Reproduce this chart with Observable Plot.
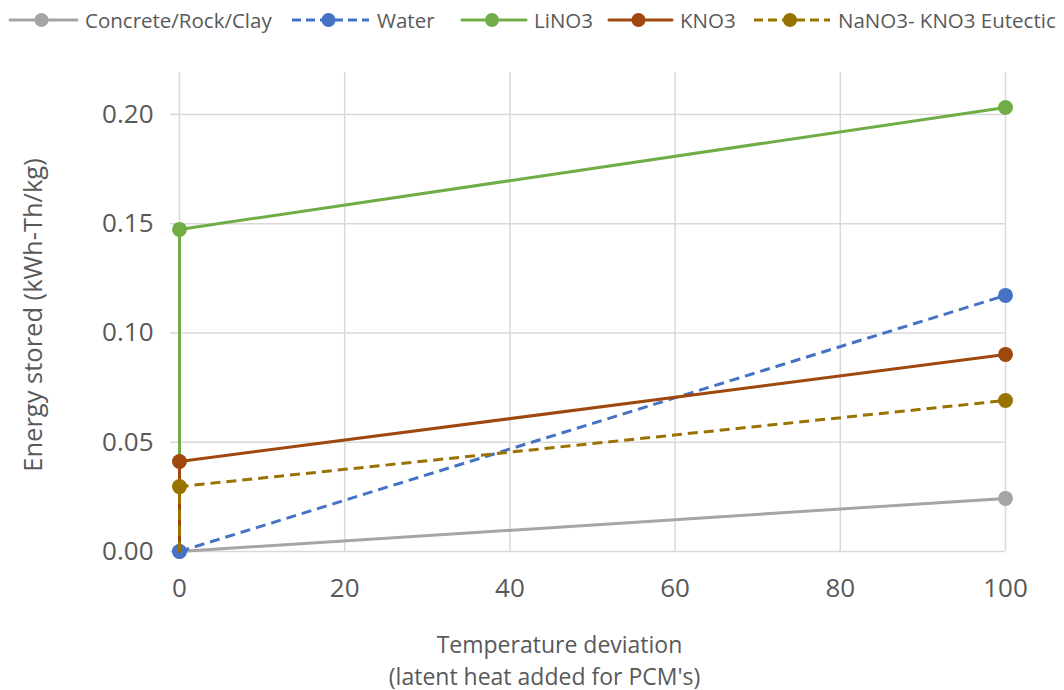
<!DOCTYPE html>
<html>
<head>
<meta charset="utf-8">
<script src="https://cdn.jsdelivr.net/npm/d3@7"></script>
<script src="https://cdn.jsdelivr.net/npm/@observablehq/plot@0.6"></script>
<style>
  body { margin: 0; background: #fff; font-family: "Open Sans", sans-serif; color: #595959; }
  #legend { position: relative; height: 40px; width: 1064px; }
  .item { position: absolute; top: 0; height: 40px; display: flex; align-items: center; font-size: 20.5px; white-space: nowrap; }
  .item svg { margin-right: 6px; }
</style>
</head>
<body>
<div id="legend"></div>
<div id="chart"></div>
<script>
// Energy stored per kg versus temperature deviation
const seriesNames = ["Concrete/Rock/Clay", "Water", "LiNO3", "KNO3", "NaNO3- KNO3 Eutectic"];
const seriesColors = ["#A5A5A5", "#4472C4", "#70AD47", "#9E480E", "#997300"];
const seriesDashed = [false, true, false, false, true];

// temperature deviation points; PCMs jump at 0 by their latent heat
const concreteTemp = [0, 100];
const concreteEnergy = [0, 0.0243];
const waterTemp = [0, 100];
const waterEnergy = [0, 0.1172];
const lino3Temp = [0, 0, 100];
const lino3Energy = [0, 0.1474, 0.2032];
const kno3Temp = [0, 0, 100];
const kno3Energy = [0, 0.0412, 0.0902];
const eutecticTemp = [0, 0, 100];
const eutecticEnergy = [0, 0.0297, 0.0691];

const xTicks = [0, 20, 40, 60, 80, 100];
const yTicks = [0, 0.05, 0.10, 0.15, 0.20];
const xTitleLines = ["Temperature deviation", "(latent heat added for PCM's)"];
const yTitle = "Energy stored (kWh-Th/kg)";

const temps = [concreteTemp, waterTemp, lino3Temp, kno3Temp, eutecticTemp];
const energies = [concreteEnergy, waterEnergy, lino3Energy, kno3Energy, eutecticEnergy];
// the starting point of a PCM curve carries no marker
const firstMarked = [0, 0, 1, 1, 1];

const dash = "10,6";

// legend
const legend = document.getElementById("legend");
const legendLeft = [8, 290, 460, 607, 752];
const swatchWidth = [71, 81, 68, 67, 80];
seriesNames.forEach((name, i) => {
  const div = document.createElement("div");
  div.className = "item";
  div.style.left = legendLeft[i] + "px";
  const w = swatchWidth[i];
  div.innerHTML =
    `<svg width="${w}" height="20"><line x1="2" x2="${w - 2}" y1="10" y2="10" stroke="${seriesColors[i]}" stroke-width="3"` +
    (seriesDashed[i] ? ` stroke-dasharray="9,5"` : ` stroke-linecap="round"`) +
    `/><circle cx="${w / 2 - 2}" cy="10" r="7" fill="${seriesColors[i]}"/></svg><span>${name}</span>`;
  legend.appendChild(div);
});

const lineMarks = [];
seriesNames.forEach((name, i) => {
  const rows = temps[i].map((t, j) => ({t, e: energies[i][j], j}));
  lineMarks.push(Plot.line(rows, {
    x: "t", y: "e",
    stroke: seriesColors[i], strokeWidth: 3,
    strokeDasharray: seriesDashed[i] ? dash : null,
    strokeLinecap: seriesDashed[i] ? "butt" : "round"
  }));
  lineMarks.push(Plot.dot(rows.filter(d => d.j >= firstMarked[i]), {
    x: "t", y: "e", r: 7.5, fill: seriesColors[i], stroke: null
  }));
});

const chart = Plot.plot({
  width: 1064,
  height: 650,
  marginTop: 32,
  marginBottom: 139,
  marginLeft: 179,
  marginRight: 59,
  style: { fontFamily: "Open Sans, sans-serif", color: "#595959", background: "#fff" },
  x: { domain: [0, 100] },
  y: { domain: [0, 0.2192] },
  marks: [
    Plot.gridX(xTicks, { stroke: "#D9D9D9", strokeOpacity: 1, strokeWidth: 1.5 }),
    Plot.gridY(yTicks, { stroke: "#D9D9D9", strokeOpacity: 1, strokeWidth: 1.5 }),
    Plot.axisY(yTicks, {
      tickSize: 9, tickPadding: 17, stroke: "#D9D9D9", strokeWidth: 1.5,
      fill: "#595959", fontSize: 26, label: null,
      tickFormat: d => d.toFixed(2)
    }),
    Plot.axisX(xTicks, {
      tickSize: 0, tickPadding: 27, fill: "#595959", fontSize: 26, label: null
    }),
    ...lineMarks,
    Plot.text([xTitleLines[0]], { frameAnchor: "bottom", text: d => d, dx: -33, dy: 101, fontSize: 23, fill: "#595959" }),
    Plot.text([xTitleLines[1]], { frameAnchor: "bottom", text: d => d, dx: -48, dy: 133, fontSize: 23, fill: "#595959" }),
    Plot.text([yTitle], { frameAnchor: "left", textAnchor: "middle", text: d => d, dx: -146, dy: 3, rotate: -90, fontSize: 25.5, fill: "#595959" })
  ]
});
document.getElementById("chart").appendChild(chart);
</script>
</body>
</html>
